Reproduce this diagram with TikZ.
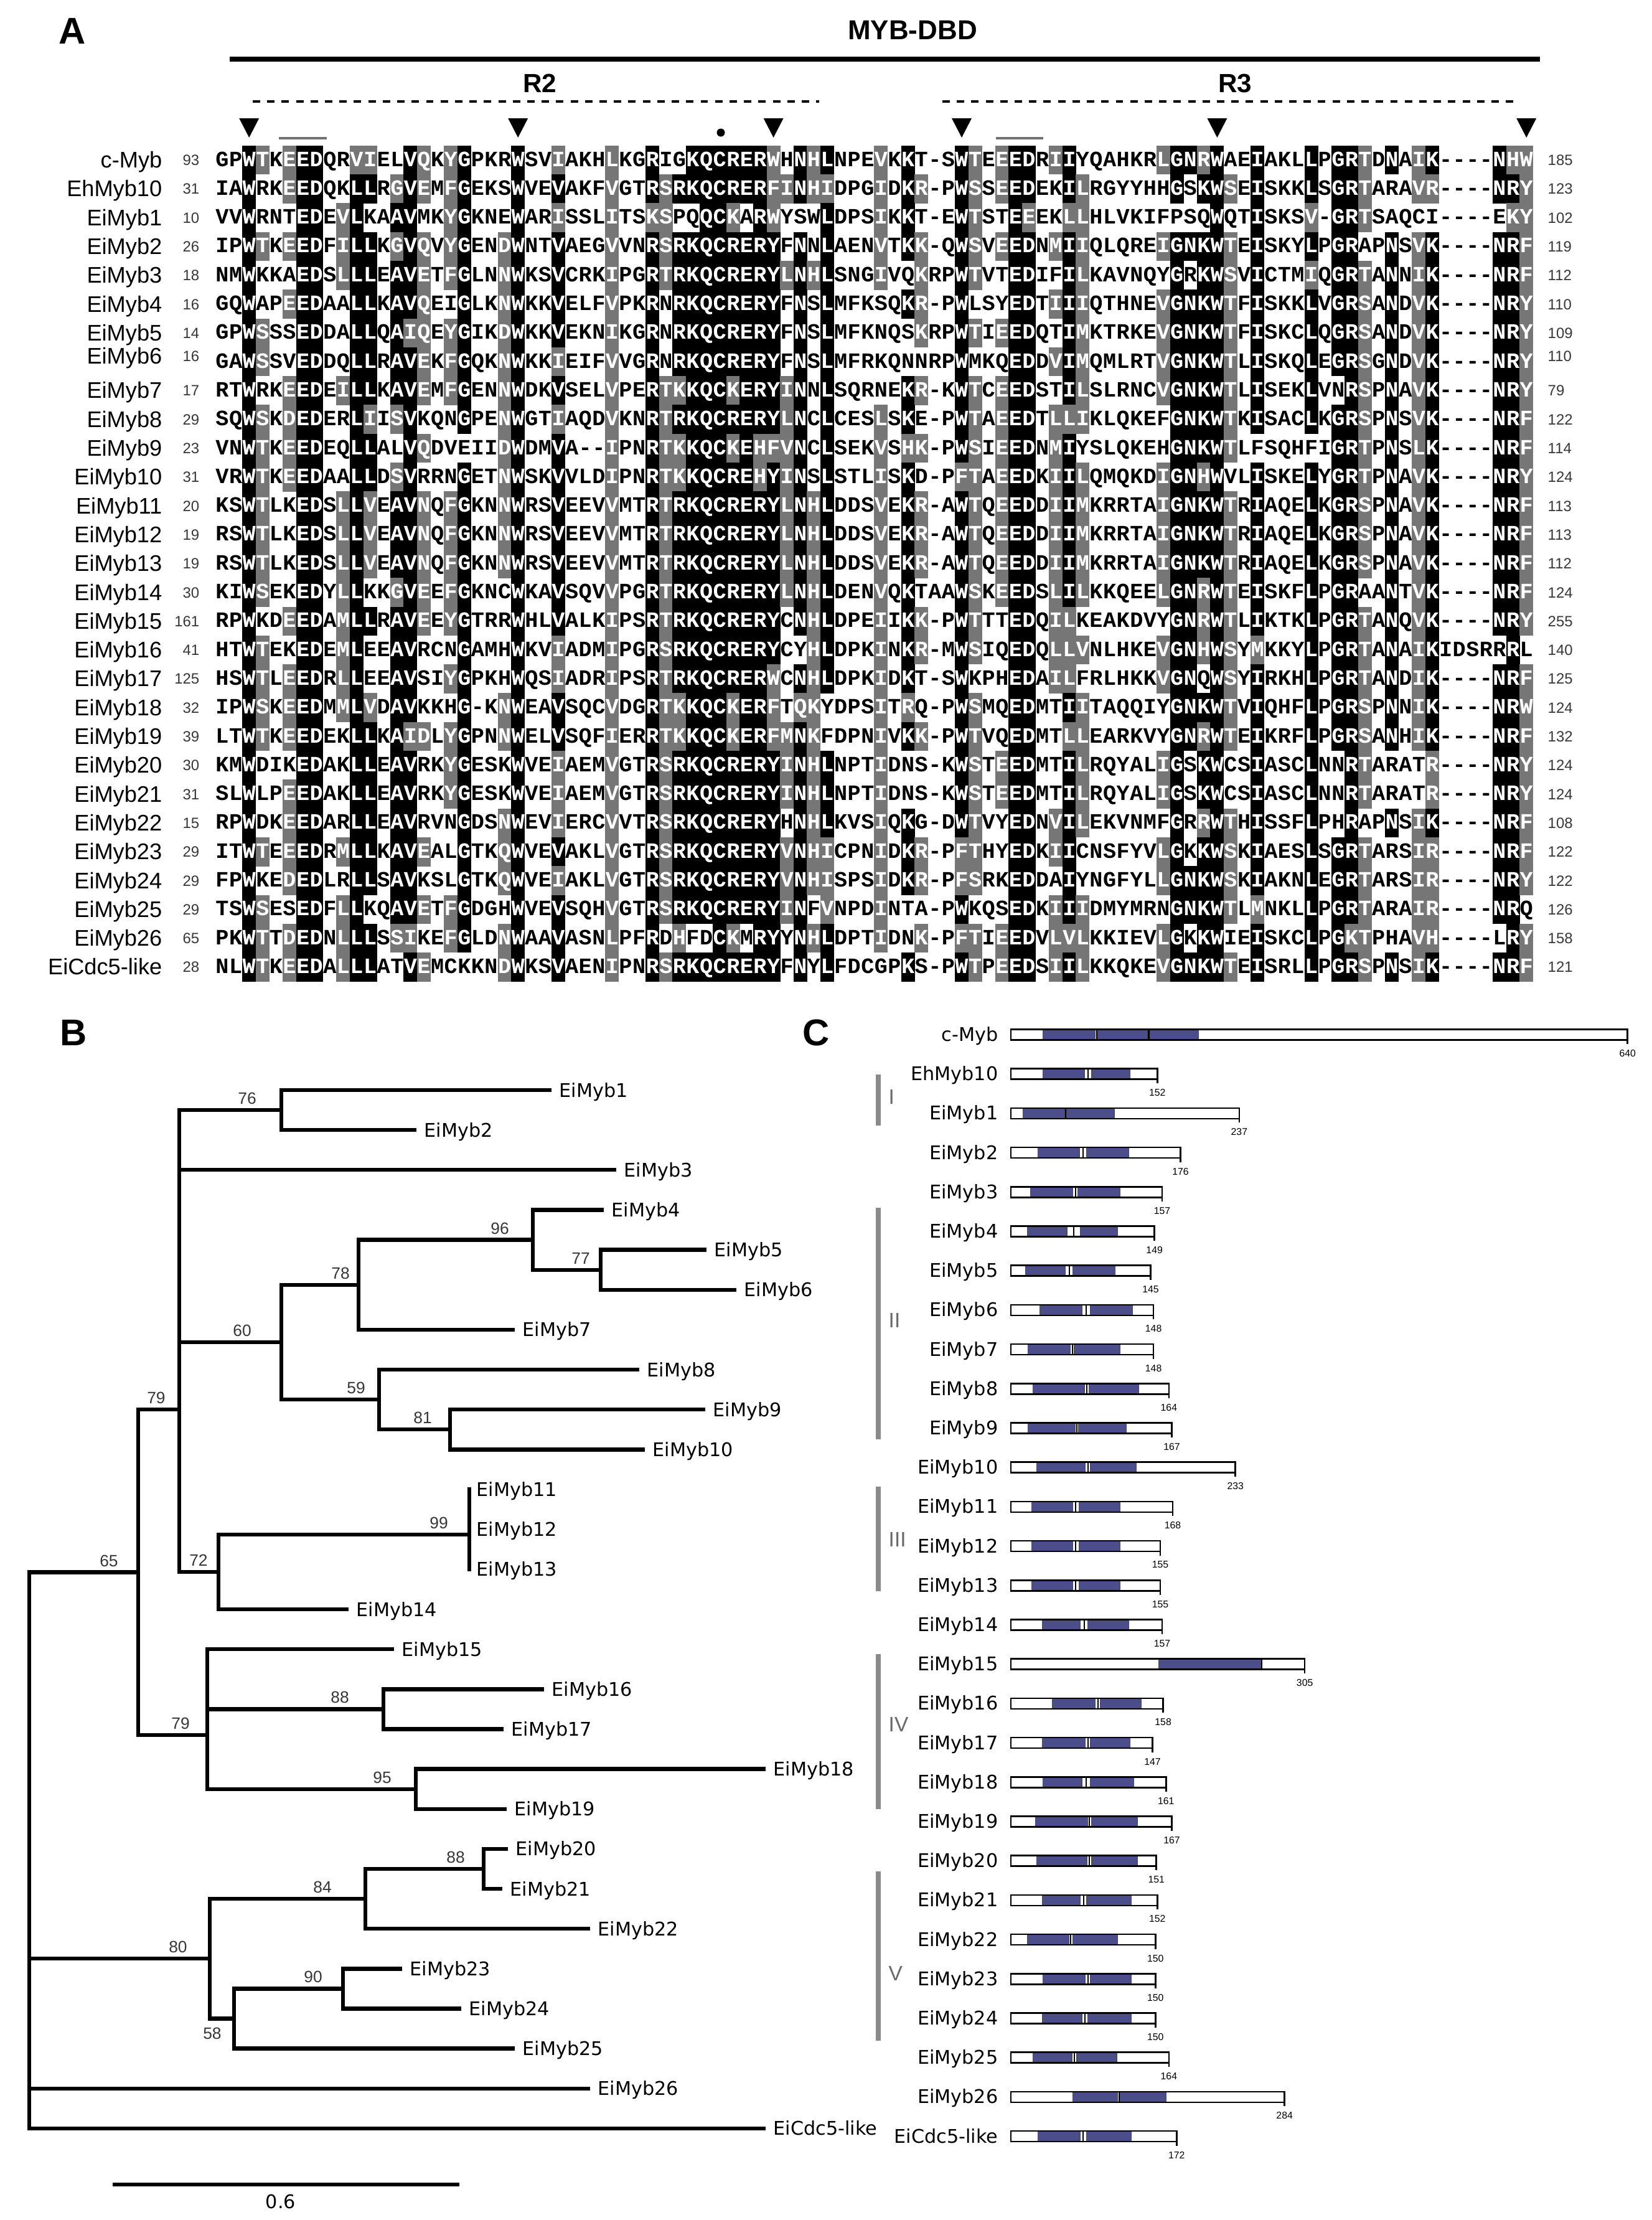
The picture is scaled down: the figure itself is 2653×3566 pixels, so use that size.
\documentclass[tikz,border=0pt]{standalone}
\usepackage{fontspec}
\setmainfont{Liberation Sans}
\newfontfamily\seqfont{Liberation Mono}
\newfontfamily\trfont{DejaVu Sans}
\definecolor{alngray}{RGB}{118,118,118}
\definecolor{dombl}{RGB}{76,78,140}
\definecolor{brgray}{RGB}{138,138,138}
\definecolor{numgray}{RGB}{55,55,55}
\definecolor{romgray}{RGB}{105,105,105}

\ExplSyntaxOn
\seq_new:N \g_aln_black_seq
\seq_new:N \g_aln_gray_seq
\int_new:N \l_aln_col_int
\tl_new:N \l_aln_b_tl
\tl_new:N \l_aln_g_tl
\NewDocumentCommand \SetColumnSpec { m m }
  {
    \seq_gset_from_clist:Nn \g_aln_black_seq {#1}
    \seq_gset_from_clist:Nn \g_aln_gray_seq {#2}
  }
\NewDocumentCommand \AlnRow { m m }
  {
    \int_zero:N \l_aln_col_int
    \tl_map_inline:nn {#2}
      {
        \int_incr:N \l_aln_col_int
        \tl_set:Nx \l_aln_b_tl { \seq_item:Nn \g_aln_black_seq { \l_aln_col_int } }
        \tl_set:Nx \l_aln_g_tl { \seq_item:Nn \g_aln_gray_seq { \l_aln_col_int } }
        \tl_if_in:NnTF \l_aln_b_tl {##1}
          { \use:x { \exp_not:N \AlnCell {#1} { \int_use:N \l_aln_col_int } {##1} {black} {white} } }
          {
            \tl_if_in:NnTF \l_aln_g_tl {##1}
              { \use:x { \exp_not:N \AlnCell {#1} { \int_use:N \l_aln_col_int } {##1} {alngray} {white} } }
              { \use:x { \exp_not:N \AlnCell {#1} { \int_use:N \l_aln_col_int } {##1} {none} {black} } }
          }
      }
  }
\ExplSyntaxOff

\newcommand\AlnCell[5]{%
  \pgfmathsetmacro\alnX{357+(#2-1)*21.6}%
  \pgfmathsetmacro\alnY{257+(#1-1)*46.3}%
  \path[fill=#4] (\alnX-10.95,\alnY-23.3) rectangle (\alnX+10.95,\alnY+23.3);%
  \node[seqtxt,text=#5] (s#1c#2) at (\alnX,\alnY+10) {#3};%
}
\newcommand\AlnLab[5]{%
  \pgfmathsetmacro\alnY{257+(#1-1)*46.3+(#5)}%
  \node[alnlab] (la#1) at (261,\alnY+12.5) {#2};%
  \node[alnnum,anchor=base east] (sa#1) at (321,\alnY+8.5) {#3};%
  \node[alnnum,anchor=base west] (ea#1) at (2486,\alnY+8.5) {#4};%
}
\newcommand\cbar[5]{%
  \pgfmathsetmacro\cbY{1662+#1*63.2}%
  \pgfmathsetmacro\cbE{1624+#3*1.548}%
  \node[clab] (cl#1) at (1604,\cbY+10.5) {#2};%
  \fill[white] (1624,\cbY-8.5) rectangle (\cbE,\cbY+8.5);%
  \foreach \ds/\dt in {#4} {\fill[dombl,draw=black!70,line width=0.3pt] (\ds,\cbY-8.5) rectangle (\dt,\cbY+8.5);}%
  \foreach \q in {#5} {\draw[line width=0.6pt] (\q,\cbY-8.5) -- (\q,\cbY+8.5);}%
  \draw[line width=0.75pt] (1624,\cbY-8.5) rectangle (\cbE,\cbY+8.5);%
  \draw[line width=0.75pt] (\cbE,\cbY+8.5) -- (\cbE,\cbY+15);%
  \node[clen] (cn#1) at (\cbE,\cbY+30) {#3};%
}
\newcommand\tE[2]{\draw[tree] (#1 |- #2) -- (#2);}
\newcommand\tV[3]{\draw[tree] (#1 |- #2) -- (#1 |- #3);}

\begin{document}
\begin{tikzpicture}[x=0.01cm,y=-0.01cm,
  seqtxt/.style={font=\seqfont\bfseries\fontsize{10}{10}\selectfont, inner sep=0pt, anchor=base},
  alnlab/.style={font=\fontsize{10.3}{12}\selectfont, inner sep=0pt, anchor=base east},
  alnnum/.style={font=\fontsize{6.8}{8}\selectfont, text=numgray, inner sep=0pt},
  panellab/.style={font=\bfseries\fontsize{17}{17}\selectfont, inner sep=0pt},
  rlab/.style={font=\bfseries\fontsize{12}{12}\selectfont, inner sep=0pt},
  dashline/.style={line width=1.3pt, dash pattern=on 3.4pt off 3.2pt},
  uline/.style={line width=1.15pt, draw=black!55},
  tree/.style={line width=1.8pt, line cap=rect},
  boot/.style={font=\fontsize{7.5}{8}\selectfont, text=numgray, inner sep=1pt, anchor=south},
  leaf/.style={font=\trfont\fontsize{8.6}{10}\selectfont, inner sep=0pt, anchor=base west},
  clab/.style={font=\trfont\fontsize{8.6}{10}\selectfont, inner sep=0pt, anchor=base east},
  clen/.style={font=\fontsize{4.5}{5}\selectfont, inner sep=0pt},
  roman/.style={font=\fontsize{9.5}{10}\selectfont, text=romgray, inner sep=0pt, anchor=west},
  bracket/.style={draw=brgray, line width=2.3pt}]
\useasboundingbox (0,0) rectangle (2653,3566);
\fill[white] (0,0) rectangle (2653,3566);

% ---------------- Panel A header
\node[panellab] (pA) at (116,50) {A};
\node[font=\bfseries\fontsize{12.5}{12.5}\selectfont, inner sep=0pt] (dbd) at (1466,48) {MYB-DBD};
\coordinate (dbdL) at (369,95);
\coordinate (dbdR) at (2474,95);
\draw[line width=2pt] (dbdL) -- (dbdR);
\node[rlab] (R2) at (867,134) {R2};
\node[rlab] (R3) at (1984,134) {R3};
\coordinate (r2a) at (406,163); \coordinate (r2b) at (1316,163);
\coordinate (r3a) at (1514,163); \coordinate (r3b) at (2437,163);
\draw[dashline] (r2a) -- (r2b);
\draw[dashline] (r3a) -- (r3b);
\foreach \c in {3,23,42,56,75,98} {
  \pgfmathsetmacro\tx{357+(\c-1)*21.6}
  \fill (\tx-16,190) -- (\tx+16,190) -- (\tx,221) -- cycle;
}
\fill (1158,213) circle[radius=0.065cm];
\draw[uline] (448,222) -- (525,222);
\draw[uline] (1600,222) -- (1676,222);

% ---------------- Alignment
\SetColumnSpec{.,.,W,.,.,.,E,D,.,.,L,L,.,A,V,.,.,.,G,.,.,.,W,.,.,V,.,.,.,.,.,.,R,.,R,K,Q,C,R,E,R,Y,.,N,.,L,.,.,.,.,.,K,.,.,.,W,.,.,.,E,D,.,.,I,.,.,.,.,.,.,.,G,N,K,W,.,.,I,.,.,.,L,.,G,R,.,.,N,.,.,K,.,.,.,.,N,R,.}
{.,.,.,TS,.,ED,D,E,.,LIMV,IVM,IVM,.,GS,ILM,EQDN,.,FYW,.,.,.,NDQ,.,.,.,ILM,.,.,.,VILM,.,.,K,ST,KH,R,.,.,K,D,KH,FW,ILMV,Q,HKR,IVM,.,.,.,ILMV,.,RH,KRH,.,.,F,TS,.,ED,D,E,.,ILMV,LVM,ILMV,.,.,.,.,.,ILMV,.,.,RH,.,TS,.,ML,.,.,.,IVM,.,.,K,TS,.,.,.,VIL,RH,.,.,.,.,.,KH,FYW}

\AlnRow{1}{GPWTKEEDQRVIELVQKYGPKRWSVIAKHLKGRIGKQCRERWHNHLNPEVKKT-SWTEEEDRIIYQAHKRLGNRWAEIAKLLPGRTDNAIK----NHW}
\AlnRow{2}{IAWRKEEDQKLLRGVEMFGEKSWVEVAKFVGTRSRKQCRERFINHIDPGIDKR-PWSSEEDEKILRGYYHHGSKWSEISKKLSGRTARAVR----NRY}
\AlnRow{3}{VVWRNTEDEVLKAAVMKYGKNEWARISSLITSKSPQQCKARWYSWLDPSIKKT-EWTSTEEEKLLHLVKIFPSQWQTISKSV-GRTSAQCI----EKY}
\AlnRow{4}{IPWTKEEDFILLKGVQVYGENDWNTVAEGVVNRSRKQCRERYFNNLAENVTKK-QWSVEEDNMIIQLQREIGNKWTEISKYLPGRAPNSVK----NRF}
\AlnRow{5}{NMWKKAEDSLLLEAVETFGLNNWKSVCRKIPGRTRKQCRERYLNHLSNGIVQKRPWTVTEDIFILKAVNQYGRKWSVICTMIQGRTANNIK----NRF}
\AlnRow{6}{GQWAPEEDAALLKAVQEIGLKNWKKVELFVPKRNRKQCRERYFNSLMFKSQKR-PWLSYEDTIIIQTHNEVGNKWTFISKKLVGRSANDVK----NRY}
\AlnRow{7}{GPWSSSEDDALLQAIQEYGIKDWKKVEKNIKGRNRKQCRERYFNSLMFKNQSKRPWTIEEDQTIMKTRKEVGNKWTFISKCLQGRSANDVK----NRY}
\AlnRow{8}{GAWSSVEDDQLLRAVEKFGQKNWKKIEIFVVGRNRKQCRERYFNSLMFRKQNNRPWMKQEDDVIMQMLRTVGNKWTLISKQLEGRSGNDVK----NRY}
\AlnRow{9}{RTWRKEEDEILLKAVEMFGENNWDKVSELVPERTKKQCKERYINNLSQRNEKR-KWTCEEDSTILSLRNCVGNKWTLISEKLVNRSPNAVK----NRY}
\AlnRow{10}{SQWSKDEDERLIISVKQNGPENWGTIAQDVKNRTRKQCRERYLNCLCESLSKE-PWTAEEDTLLIKLQKEFGNKWTKISACLKGRSPNSVK----NRF}
\AlnRow{11}{VNWTKEEDEQLLALVQDVEIIDWDMVA--IPNRTKKQCKEHFVNCLSEKVSHK-PWSIEEDNMIYSLQKEHGNKWTLFSQHFIGRTPNSLK----NRF}
\AlnRow{12}{VRWTKEEDAALLDSVRRNGETNWSKVVLDIPNRTKKQCREHYINSLSTLISKD-PFTAEEDKIILQMQKDIGNHWVLISKELYGRTPNAVK----NRY}
\AlnRow{13}{KSWTLKEDSLLVEAVNQFGKNNWRSVEEVVMTRTRKQCRERYLNHLDDSVEKR-AWTQEEDDIIMKRRTAIGNKWTRIAQELKGRSPNAVK----NRF}
\AlnRow{14}{RSWTLKEDSLLVEAVNQFGKNNWRSVEEVVMTRTRKQCRERYLNHLDDSVEKR-AWTQEEDDIIMKRRTAIGNKWTRIAQELKGRSPNAVK----NRF}
\AlnRow{15}{RSWTLKEDSLLVEAVNQFGKNNWRSVEEVVMTRTRKQCRERYLNHLDDSVEKR-AWTQEEDDIIMKRRTAIGNKWTRIAQELKGRSPNAVK----NRF}
\AlnRow{16}{KIWSEKEDYLLKKGVEEFGKNCWKAVSQVVPGRTRKQCRERYLNHLDENVQKTAAWSKEEDSLILKKQEELGNRWTEISKFLPGRAANTVK----NRF}
\AlnRow{17}{RPWKDEEDAMLLRAVEEYGTRRWHLVALKIPSRTRKQCRERYCNHLDPEIIKK-PWTTTEDQILKEAKDVYGNRWTLIKTKLPGRTANQVK----NRY}
\AlnRow{18}{HTWTEKEDEMLEEAVRCNGAMHWKVIADMIPGRSRKQCRERYCYHLDPKINKR-MWSIQEDQLLVNLHKEVGNHWSYMKKYLPGRTANAIKIDSRRRL}
\AlnRow{19}{HSWTLEEDRLLEEAVSIYGPKHWQSIADRIPSRTRKQCRERWCNHLDPKIDKT-SWKPHEDAILFRLHKKVGNQWSYIRKHLPGRTANDIK----NRF}
\AlnRow{20}{IPWSKEEDMMLVDAVKKHG-KNWEAVSQCVDGRTKKQCKERFTQKYDPSITRQ-PWSMQEDMTIITAQQIYGNKWTVIQHFLPGRSPNNIK----NRW}
\AlnRow{21}{LTWTKEEDEKLLKAIDLYGPNNWELVSQFIERRTKKQCKERFMNKFDPNIVKK-PWTVQEDMTLLEARKVYGNRWTEIKRFLPGRSANHIK----NRF}
\AlnRow{22}{KMWDIKEDAKLLEAVRKYGESKWVEIAEMVGTRSRKQCRERYINHLNPTIDNS-KWSTEEDMTILRQYALIGSKWCSIASCLNNRTARATR----NRY}
\AlnRow{23}{SLWLPEEDAKLLEAVRKYGESKWVEIAEMVGTRSRKQCRERYINHLNPTIDNS-KWSTEEDMTILRQYALIGSKWCSIASCLNNRTARATR----NRY}
\AlnRow{24}{RPWDKEEDARLLEAVRVNGDSNWEVIERCVVTRSRKQCRERYHNHLKVSIQKG-DWTVYEDNVILEKVNMFGRRWTHISSFLPHRAPNSIK----NRF}
\AlnRow{25}{ITWTEEEDRMLLKAVEALGTKQWVEVAKLVGTRSRKQCRERYVNHICPNIDKR-PFTHYEDKIICNSFYVLGKKWSKIAESLSGRTARSIR----NRF}
\AlnRow{26}{FPWKEDEDLRLLSAVKSLGTKQWVEIAKLVGTRSRKQCRERYVNHISPSIDKR-PFSRKEDDAIYNGFYLLGNKWSKIAKNLEGRTARSIR----NRY}
\AlnRow{27}{TSWSESEDFLLKQAVETFGDGHWVEVSQHVGTRSRKQCRERYINFVNPDINTA-PWKQSEDKIIIDMYMRNGNKWTLMNKLLPGRTARAIR----NRQ}
\AlnRow{28}{PKWTTDEDNLLLSSIKEFGLDNWAAVASNLPFRDHFDCKMRYYNHLDPTIDNK-PFTIEEDVLVLKKIEVLGKKWIEISKCLPGKTPHAVH----LRY}
\AlnRow{29}{NLWTKEEDALLLATVEMCKKNDWKSVAENIPNRSRKQCRERYFNYLFDCGPKS-PWTPEEDSIILKKQKEVGNKWTEISRLLPGRSPNSIK----NRF}

\AlnLab{1}{c-Myb}{93}{185}{0}
\AlnLab{2}{EhMyb10}{31}{123}{0}
\AlnLab{3}{EiMyb1}{10}{102}{0}
\AlnLab{4}{EiMyb2}{26}{119}{0}
\AlnLab{5}{EiMyb3}{18}{112}{0}
\AlnLab{6}{EiMyb4}{16}{110}{0}
\AlnLab{7}{EiMyb5}{14}{109}{0}
\AlnLab{8}{EiMyb6}{16}{110}{-9}
\AlnLab{9}{EiMyb7}{17}{79}{0}
\AlnLab{10}{EiMyb8}{29}{122}{0}
\AlnLab{11}{EiMyb9}{23}{114}{0}
\AlnLab{12}{EiMyb10}{31}{124}{0}
\AlnLab{13}{EiMyb11}{20}{113}{0}
\AlnLab{14}{EiMyb12}{19}{113}{0}
\AlnLab{15}{EiMyb13}{19}{112}{0}
\AlnLab{16}{EiMyb14}{30}{124}{0}
\AlnLab{17}{EiMyb15}{161}{255}{0}
\AlnLab{18}{EiMyb16}{41}{140}{0}
\AlnLab{19}{EiMyb17}{125}{125}{0}
\AlnLab{20}{EiMyb18}{32}{124}{0}
\AlnLab{21}{EiMyb19}{39}{132}{0}
\AlnLab{22}{EiMyb20}{30}{124}{0}
\AlnLab{23}{EiMyb21}{31}{124}{0}
\AlnLab{24}{EiMyb22}{15}{108}{0}
\AlnLab{25}{EiMyb23}{29}{122}{0}
\AlnLab{26}{EiMyb24}{29}{122}{0}
\AlnLab{27}{EiMyb25}{29}{126}{0}
\AlnLab{28}{EiMyb26}{65}{158}{0}
\AlnLab{29}{EiCdc5-like}{28}{121}{0}

% ---------------- Panel B: tree
\node[panellab] (pB) at (118,1659) {B};
\coordinate (root) at (47,2525.5);
\coordinate (n65) at (222,2525.5);
\coordinate (n79a) at (288,2264);
\coordinate (n76) at (452,1783.1);
\coordinate (n60) at (452,2156);
\coordinate (n78) at (576,2063.8);
\coordinate (n96) at (856,1991.6);
\coordinate (n77) at (965,2039.7);
\coordinate (n59) at (609,2248.2);
\coordinate (n81) at (723,2296.3);
\coordinate (n72) at (351,2525);
\coordinate (n99) at (754,2465);
\coordinate (n79b) at (333,2787);
\coordinate (n88) at (616,2745.4);
\coordinate (n95) at (668,2873.7);
\coordinate (n80) at (337,3146);
\coordinate (n84) at (587,3050);
\coordinate (n88b) at (777,3002);
\coordinate (n58) at (376,3242.5);
\coordinate (n90) at (551,3194.4);
\coordinate (t1) at (883,1751.0);
\coordinate (t2) at (666,1815.2);
\coordinate (t3) at (987,1879.3);
\coordinate (t4) at (967,1943.5);
\coordinate (t5) at (1132,2007.6);
\coordinate (t6) at (1180,2071.8);
\coordinate (t7) at (824,2135.9);
\coordinate (t8) at (1024,2200.1);
\coordinate (t9) at (1130,2264.2);
\coordinate (t10) at (1033,2328.4);
\coordinate (t11) at (754,2392.5);
\coordinate (t12) at (754,2456.7);
\coordinate (t13) at (754,2520.8);
\coordinate (t14) at (557,2585.0);
\coordinate (t15) at (630,2649.1);
\coordinate (t16) at (871,2713.3);
\coordinate (t17) at (806,2777.4);
\coordinate (t18) at (1227,2841.6);
\coordinate (t19) at (811,2905.7);
\coordinate (t20) at (813,2969.9);
\coordinate (t21) at (804,3034.0);
\coordinate (t22) at (945,3098.2);
\coordinate (t23) at (643,3162.3);
\coordinate (t24) at (738,3226.5);
\coordinate (t25) at (824,3290.6);
\coordinate (t26) at (945,3354.8);
\coordinate (t27) at (1227,3418.9);

\tV{root}{n65}{t27}
\tE{root}{n65} \tE{root}{n80} \tE{root}{t26} \tE{root}{t27}
\tV{n65}{n79a}{n79b} \tE{n65}{n79a} \tE{n65}{n79b}
\tV{n79a}{n76}{n72} \tE{n79a}{n76} \tE{n79a}{t3} \tE{n79a}{n60} \tE{n79a}{n72}
\tV{n76}{t1}{t2} \tE{n76}{t1} \tE{n76}{t2}
\tV{n60}{n78}{n59} \tE{n60}{n78} \tE{n60}{n59}
\tV{n78}{n96}{t7} \tE{n78}{n96} \tE{n78}{t7}
\tV{n96}{t4}{n77} \tE{n96}{t4} \tE{n96}{n77}
\tV{n77}{t5}{t6} \tE{n77}{t5} \tE{n77}{t6}
\tV{n59}{t8}{n81} \tE{n59}{t8} \tE{n59}{n81}
\tV{n81}{t9}{t10} \tE{n81}{t9} \tE{n81}{t10}
\tV{n72}{n99}{t14} \tE{n72}{n99} \tE{n72}{t14}
\tV{n99}{t11}{t13}
\tV{n79b}{t15}{n95} \tE{n79b}{t15} \tE{n79b}{n88} \tE{n79b}{n95}
\tV{n88}{t16}{t17} \tE{n88}{t16} \tE{n88}{t17}
\tV{n95}{t18}{t19} \tE{n95}{t18} \tE{n95}{t19}
\tV{n80}{n84}{n58} \tE{n80}{n84} \tE{n80}{n58}
\tV{n84}{n88b}{t22} \tE{n84}{n88b} \tE{n84}{t22}
\tV{n88b}{t20}{t21} \tE{n88b}{t20} \tE{n88b}{t21}
\tV{n58}{n90}{t25} \tE{n58}{n90} \tE{n58}{t25}
\tV{n90}{t23}{t24} \tE{n90}{t23} \tE{n90}{t24}

\node[leaf] (T1) at (898,1762) {EiMyb1};
\node[leaf] (T2) at (681,1826.2) {EiMyb2};
\node[leaf] (T3) at (1002,1890.3) {EiMyb3};
\node[leaf] (T4) at (982,1954.5) {EiMyb4};
\node[leaf] (T5) at (1147,2018.6) {EiMyb5};
\node[leaf] (T6) at (1195,2082.8) {EiMyb6};
\node[leaf] (T7) at (839,2146.9) {EiMyb7};
\node[leaf] (T8) at (1039,2211.1) {EiMyb8};
\node[leaf] (T9) at (1145,2275.2) {EiMyb9};
\node[leaf] (T10) at (1048,2339.4) {EiMyb10};
\node[leaf] (T11) at (765,2403.5) {EiMyb11};
\node[leaf] (T12) at (765,2467.7) {EiMyb12};
\node[leaf] (T13) at (765,2531.8) {EiMyb13};
\node[leaf] (T14) at (572,2596) {EiMyb14};
\node[leaf] (T15) at (645,2660.1) {EiMyb15};
\node[leaf] (T16) at (886,2724.3) {EiMyb16};
\node[leaf] (T17) at (821,2788.4) {EiMyb17};
\node[leaf] (T18) at (1242,2852.6) {EiMyb18};
\node[leaf] (T19) at (826,2916.7) {EiMyb19};
\node[leaf] (T20) at (828,2980.9) {EiMyb20};
\node[leaf] (T21) at (819,3045) {EiMyb21};
\node[leaf] (T22) at (960,3109.2) {EiMyb22};
\node[leaf] (T23) at (658,3173.3) {EiMyb23};
\node[leaf] (T24) at (753,3237.5) {EiMyb24};
\node[leaf] (T25) at (839,3301.6) {EiMyb25};
\node[leaf] (T26) at (960,3365.8) {EiMyb26};
\node[leaf] (T27) at (1242,3429.9) {EiCdc5-like};

\node[boot] (b76) at (397,1778) {76};
\node[boot] (b96) at (803,1986.6) {96};
\node[boot] (b77) at (933,2034.7) {77};
\node[boot] (b78) at (547,2058.8) {78};
\node[boot] (b60) at (389,2151) {60};
\node[boot] (b59) at (572,2243.2) {59};
\node[boot] (b81) at (679,2291.3) {81};
\node[boot] (b79a) at (251,2259) {79};
\node[boot] (b99) at (705,2460) {99};
\node[boot] (b65) at (175,2520.5) {65};
\node[boot] (b72) at (319,2520) {72};
\node[boot] (b88) at (546,2740.4) {88};
\node[boot] (b79b) at (290,2782) {79};
\node[boot] (b95) at (614,2868.7) {95};
\node[boot] (b88b) at (732,2997) {88};
\node[boot] (b84) at (518,3045) {84};
\node[boot] (b80) at (286,3141) {80};
\node[boot] (b90) at (503,3189.4) {90};
\node[boot,anchor=north] (b58) at (341,3253) {58};

\coordinate (sbL) at (184,3509);
\coordinate (sbR) at (735,3509);
\draw[tree] (sbL) -- (sbR);
\node[font=\trfont\fontsize{8.6}{10}\selectfont, inner sep=0pt, anchor=north] (sblab) at (451,3524) {0.6};

% ---------------- Panel C
\node[panellab] (pC) at (1311,1659) {C};
\draw[bracket] (1411,1726) -- (1411,1808);
\node[roman] (rmI) at (1427,1762) {I};
\draw[bracket] (1411,1940) -- (1411,2312);
\node[roman] (rmII) at (1427,2121) {II};
\draw[bracket] (1411,2388) -- (1411,2556);
\node[roman] (rmIII) at (1427,2473) {III};
\draw[bracket] (1411,2657) -- (1411,2906);
\node[roman] (rmIV) at (1427,2770) {IV};
\draw[bracket] (1411,3006) -- (1411,3278);
\node[roman] (rmV) at (1427,3170) {V};

\cbar{0}{c-Myb}{640}{1675.7/1759.6,1763.6/1843.5,1847.5/1925.8}{1761.6,1845.5}
\cbar{1}{EhMyb10}{152}{1675.7/1742,1754/1815.5}{1748}
\cbar{2}{EiMyb1}{237}{1643.7/1710.1,1713.2/1790}{1711.6}
\cbar{3}{EiMyb2}{176}{1667.7/1734,1745.2/1813.9}{1739.6}
\cbar{4}{EiMyb3}{157}{1655.7/1723.6,1731.6/1799.6}{1727.6}
\cbar{5}{EiMyb4}{149}{1650.1/1714,1735.6/1795.6}{1724.8}
\cbar{6}{EiMyb5}{145}{1647.7/1711.6,1723.6/1791.6}{1717.6}
\cbar{7}{EiMyb6}{148}{1670.1/1738,1751.6/1819.5}{1744.8}
\cbar{8}{EiMyb7}{148}{1651.7/1719.6,1726/1799.6}{1722.8}
\cbar{9}{EiMyb8}{164}{1659.7/1742,1749.2/1829.1}{1745.6}
\cbar{10}{EiMyb9}{167}{1651.7/1727.6,1732.4/1809.1}{1730}
\cbar{11}{EiMyb10}{233}{1665.3/1743.6,1751.6/1825.1}{1747.6}
\cbar{12}{EiMyb11}{168}{1657.3/1723.6,1733.2/1799.6}{1728.4}
\cbar{13}{EiMyb12}{155}{1657.3/1723.6,1733.2/1799.6}{1728.4}
\cbar{14}{EiMyb13}{155}{1657.3/1723.6,1733.2/1799.6}{1728.4}
\cbar{15}{EiMyb14}{157}{1674.1/1735.6,1747.6/1813.9}{1741.6}
\cbar{16}{EiMyb15}{305}{1861.9/2027.3}{2027.3}
\cbar{17}{EiMyb16}{158}{1690.1/1759.6,1767.6/1833.9}{1763.6}
\cbar{18}{EiMyb17}{147}{1674.1/1743.6,1751.6/1815.5}{1747.6}
\cbar{19}{EiMyb18}{161}{1675.7/1738,1751.6/1821.1}{1744.8}
\cbar{20}{EiMyb19}{167}{1663.7/1747.6,1753.2/1827.5}{1750.4}
\cbar{21}{EiMyb20}{151}{1665.3/1746,1754/1827.5}{1750}
\cbar{22}{EiMyb21}{152}{1674.1/1735.6,1746/1817.1}{1740.8}
\cbar{23}{EiMyb22}{150}{1650.1/1717.2,1723.6/1795.6}{1720.4}
\cbar{24}{EiMyb23}{150}{1675.7/1743.6,1751.6/1817.1}{1747.6}
\cbar{25}{EiMyb24}{150}{1674.1/1738,1747.6/1817.1}{1742.8}
\cbar{26}{EiMyb25}{164}{1659.7/1722,1730/1794}{1726}
\cbar{27}{EiMyb26}{284}{1723.6/1795.6,1799.6/1873.9}{1797.6}
\cbar{28}{EiCdc5-like}{172}{1667.7/1735.6,1745.2/1817.1}{1740.4}
\end{tikzpicture}
\end{document}
